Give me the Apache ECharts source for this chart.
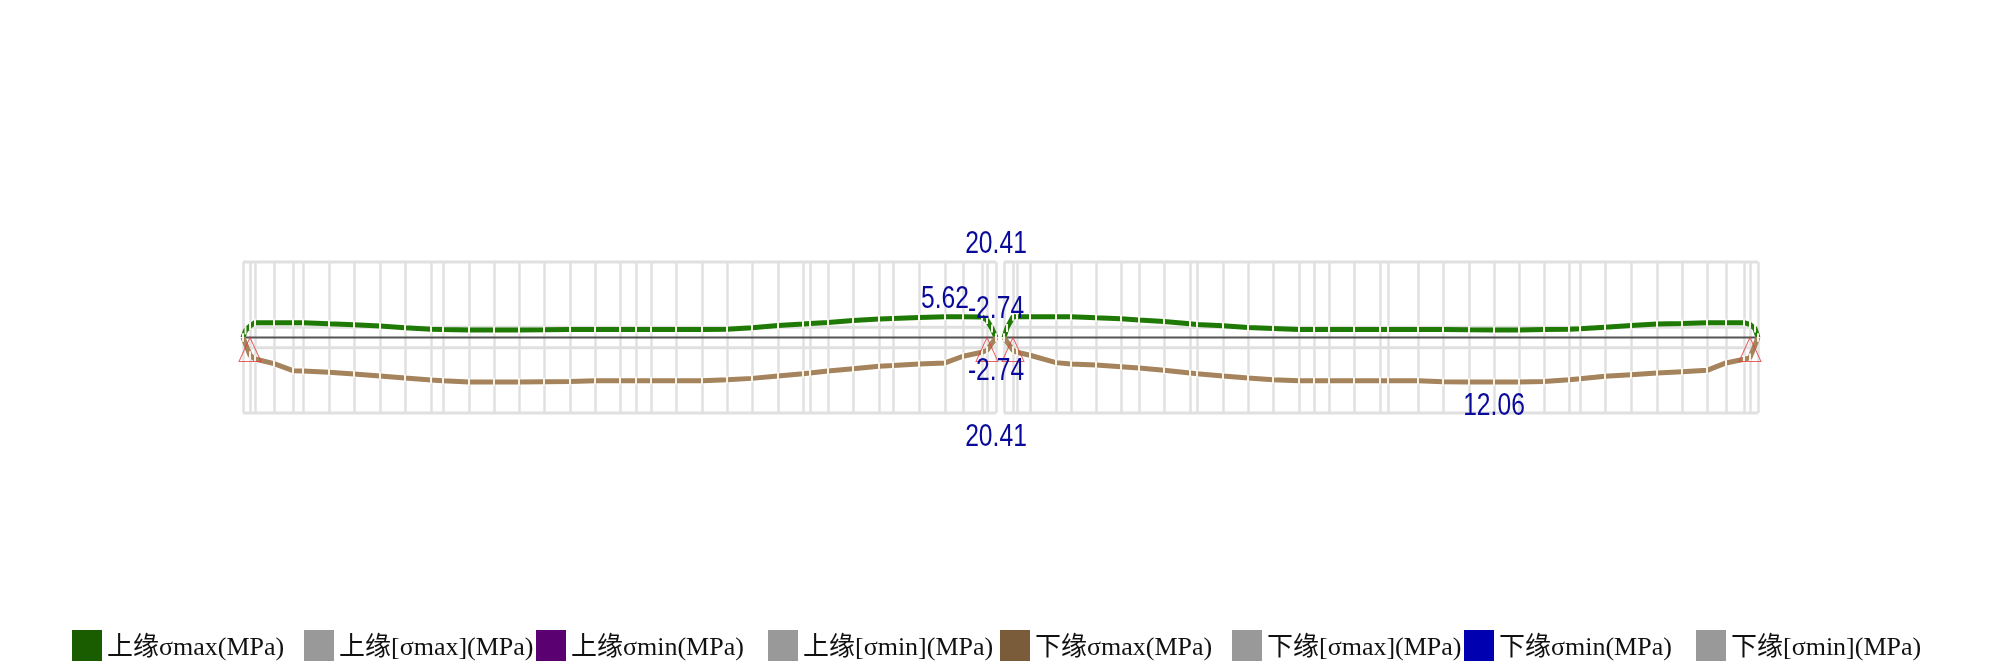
<!DOCTYPE html>
<html>
<head>
<meta charset="utf-8">
<style>html,body{margin:0;background:#fff}#chart{width:2000px;height:671px}</style>
<script src="https://cdn.jsdelivr.net/npm/echarts@6/dist/echarts.min.js"></script>
</head>
<body>
<div id="chart"></div>
<script>
// stations along the beam (one unit = 10px of the plot)
var stations = [0, 0.7, 1.2, 3.1, 5.0, 6.0, 8.6, 11.1, 13.7, 16.2, 18.8, 20.0, 22.6, 25.1, 27.6, 30.1, 32.7, 35.2, 37.7,
    39.3, 40.8, 43.3, 45.9, 48.4, 50.9, 53.5, 56.0, 56.7, 58.5, 61.0, 63.6, 65.0, 67.6, 70.2, 72.0, 73.9, 74.4, 75.3,
    76.1, 77.0, 77.4, 78.7, 81.3, 82.8, 85.3, 87.8, 89.6, 92.1, 94.7, 95.4, 98.0, 100.5, 103.0, 105.6, 107.1, 108.6, 111.1, 113.7,
    114.5, 117.5, 120.0, 122.6, 125.1, 127.6, 130.1, 132.6, 133.7, 136.2, 138.8, 141.4, 143.9, 146.4, 148.3, 150.1, 150.7, 151.5];
var upperMax = [0, 3.1, 4.0, 4.0, 4.0, 4.0, 3.7, 3.45, 3.1, 2.63, 2.26, 2.17, 2.0, 2.0, 2.0, 2.08, 2.17, 2.17, 2.17,
    2.17, 2.17, 2.17, 2.17, 2.26, 2.63, 3.26, 3.62, 3.8, 4.08, 4.62, 4.98, 5.16, 5.43, 5.62, 5.62, 5.53, 4.7, 0,
    0, 5.6, 5.62, 5.62, 5.62, 5.62, 5.34, 5.07, 4.7, 4.35, 3.7, 3.53, 3.17, 2.72, 2.45, 2.17, 2.17, 2.17, 2.17, 2.17,
    2.17, 2.17, 2.17, 2.08, 2.0, 2.0, 2.17, 2.26, 2.36, 2.8, 3.26, 3.62, 3.8, 4.0, 4.0, 4.0, 3.53, 0];
var lowerMax = [0, 4.8, 5.8, 7.07, 8.97, 9.06, 9.42, 9.87, 10.4, 10.96, 11.5, 11.7, 12.05, 12.05, 12.05, 11.96, 11.87, 11.7, 11.7,
    11.7, 11.7, 11.7, 11.7, 11.41, 11.05, 10.4, 9.78, 9.6, 9.06, 8.42, 7.79, 7.6, 7.16, 6.88, 5.07, 3.99, 3.44, 0,
    0, 3.44, 3.99, 4.8, 6.79, 7.16, 7.43, 7.88, 8.24, 8.88, 9.6, 9.78, 10.4, 10.96, 11.41, 11.7, 11.7, 11.7, 11.7, 11.7,
    11.7, 11.7, 11.96, 12.05, 12.06, 12.05, 11.87, 11.41, 11.14, 10.5, 10.05, 9.6, 9.24, 8.88, 6.88, 5.89, 5.43, 0];
// extra points on the rounded ends near the supports
var upperCurve = [[0.25, 1.9], [74.9, 2.4], [76.4, 2.6], [151.2, 2.4]];
var supports = [0.7, 74.4, 77.0, 150.7];
var spanEnds = [[0, 75.3], [76.1, 151.5]];
var limitMax = 20.41;
var limitMin = -2.74;
var upperLabelX = [75.3, 75.3, 70.2];
var upperLabelY = [20.41, 2.74, 5.62];
var upperLabelText = ['20.41', '-2.74', '5.62'];
var lowerLabelX = [75.3, 75.3, 125.1];
var lowerLabelY = [20.41, 2.74, 12.06];
var lowerLabelText = ['20.41', '-2.74', '12.06'];
var legendNames = ['上缘σmax(MPa)', '上缘[σmax](MPa)', '上缘σmin(MPa)', '上缘[σmin](MPa)',
    '下缘σmax(MPa)', '下缘[σmax](MPa)', '下缘σmin(MPa)', '下缘[σmin](MPa)'];
var legendColors = ['#1a5c00', '#999999', '#5a0070', '#999999', '#7a5c3a', '#999999', '#0000b0', '#999999'];

// station pairs, sorted, with a break between the two spans
function pairs(ys, extra) {
    var pts = stations.map(function (x, i) { return [x, ys[i]]; }).concat(extra || [], [[75.7, '-']]);
    return pts.sort(function (a, b) { return a[0] - b[0]; });
}
function spanLine(v) {
    return [[spanEnds[0][0], v], [spanEnds[0][1], v], [75.7, '-'], [spanEnds[1][0], v], [spanEnds[1][1], v]];
}
function limitSeries(name, v, axis) {
    return {
        name: name,
        type: 'line',
        yAxisIndex: axis,
        data: spanLine(Math.abs(v)),
        showSymbol: false,
        silent: true,
        clip: false,
        lineStyle: { color: '#e0e0e0', width: 3 },
        itemStyle: { color: '#e0e0e0' }
    };
}
function stressSeries(name, data, axis, color) {
    return {
        name: name,
        type: 'line',
        yAxisIndex: axis,
        data: data,
        symbol: 'rect',
        symbolSize: [2, 8],
        showAllSymbol: true,
        silent: true,
        z: 4,
        lineStyle: { color: color, width: 5 },
        itemStyle: { color: '#f6f3e6' }
    };
}
// the labels in the reference are narrow, so they are squeezed horizontally
function labelSeries(xs, ys, texts, axis, offset) {
    return {
        type: 'custom',
        yAxisIndex: axis,
        silent: true,
        z: 6,
        clip: false,
        data: xs.map(function (x, i) { return [x, ys[i]]; }),
        renderItem: function (params, api) {
            var pt = api.coord([api.value(0), api.value(1)]);
            return {
                type: 'text',
                x: pt[0],
                y: pt[1] + offset,
                scaleX: 0.77,
                style: {
                    text: texts[params.dataIndex],
                    fill: '#0a0a9a',
                    fontSize: 32,
                    fontFamily: '"Liberation Sans"',
                    textAlign: 'center',
                    textVerticalAlign: 'middle'
                }
            };
        }
    };
}

var option = {
    animation: false,
    backgroundColor: '#fff',
    grid: { left: 243, top: 262, width: 1515, height: 151 },
    xAxis: {
        type: 'value',
        min: 0,
        max: 151.5,
        axisLine: { show: false },
        axisLabel: { show: false },
        axisTick: { show: false, customValues: stations },
        splitLine: { show: true, lineStyle: { color: '#e0e0e0', width: 2.5 } }
    },
    yAxis: [
        { type: 'value', min: -limitMax, max: limitMax, show: false },
        { type: 'value', min: -limitMax, max: limitMax, inverse: true, show: false }
    ],
    legend: legendNames.map(function (n, i) {
        return {
            data: [{ name: n, icon: 'rect', itemStyle: { color: legendColors[i] } }],
            left: 72 + i * 232,
            top: 630,
            padding: 0,
            itemWidth: 30,
            itemHeight: 31,
            itemGap: 0,
            selectedMode: false,
            formatter: '{t|{name}}',
            textStyle: {
                rich: {
                    t: { fontSize: 26, color: '#111', padding: [6, 0, 0, 0],
                        fontFamily: '"Liberation Serif", "Noto Sans CJK SC"' }
                }
            }
        };
    }),
    series: [
        limitSeries(legendNames[1], limitMax, 0),
        limitSeries(legendNames[3], limitMin, 0),
        limitSeries(legendNames[5], limitMax, 1),
        limitSeries(legendNames[7], limitMin, 1),
        { name: 'zero', type: 'line', data: spanLine(0), showSymbol: false, silent: true, z: 3,
            lineStyle: { color: '#555555', width: 2 } },
        stressSeries(legendNames[0], pairs(upperMax, upperCurve), 0, '#1f7a05'),
        { name: legendNames[2], type: 'line', data: [] },
        stressSeries(legendNames[4], pairs(lowerMax), 1, '#a5835c'),
        { name: legendNames[6], type: 'line', data: [] },
        {
            name: 'support',
            type: 'scatter',
            data: supports.map(function (x) { return [x, 0]; }),
            symbol: 'triangle',
            symbolSize: [22, 24],
            symbolOffset: [0, 12],
            silent: true,
            z: 5,
            itemStyle: { color: 'rgba(0,0,0,0)', borderColor: '#e23a3a', borderWidth: 1 }
        },
        labelSeries(upperLabelX, upperLabelY, upperLabelText, 0, -18),
        labelSeries(lowerLabelX, lowerLabelY, lowerLabelText, 1, 24)
    ]
};

var chart = echarts.init(document.getElementById('chart'));
chart.setOption(option);
</script>
</body>
</html>
